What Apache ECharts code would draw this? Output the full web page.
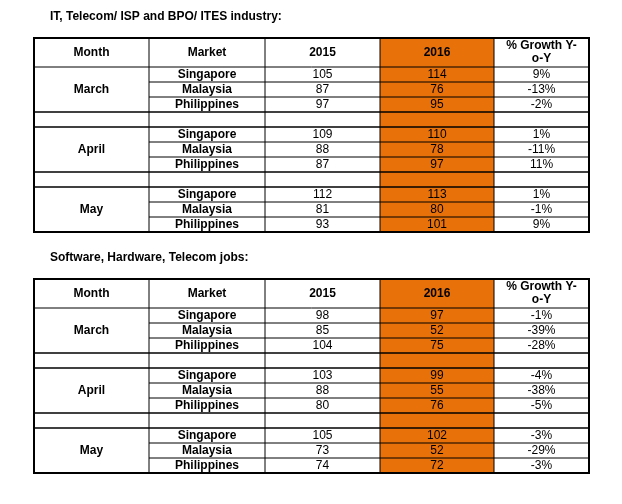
<!DOCTYPE html>
<html lang="en">
<head>
<meta charset="UTF-8">
<title>Jobs table</title>
<script src="https://cdn.jsdelivr.net/npm/echarts@6/dist/echarts.min.js"></script>
<style>html,body{margin:0;height:100%;background:#fff}#main{width:622px;height:504px}</style>
</head>
<body>
<div id="main"></div>
<script>
var months = ['March', 'April', 'May'];
var markets = ['Singapore', 'Malaysia', 'Philippines'];
var headers = ['Month', 'Market', '2015', '2016', ['% Growth Y-', 'o-Y']];
var titles = ['IT, Telecom/ ISP and BPO/ ITES industry:', 'Software, Hardware, Telecom jobs:'];
var it2015 = [105, 87, 97, 109, 88, 87, 112, 81, 93];
var it2016 = [114, 76, 95, 110, 78, 97, 113, 80, 101];
var itGrowth = ['9%', '-13%', '-2%', '1%', '-11%', '11%', '1%', '-1%', '9%'];
var sw2015 = [98, 85, 104, 103, 88, 80, 105, 73, 74];
var sw2016 = [97, 52, 75, 99, 55, 76, 102, 52, 72];
var swGrowth = ['-1%', '-39%', '-28%', '-4%', '-38%', '-5%', '-3%', '-29%', '-3%'];

var colX = [34, 149, 265, 380, 494, 589];
var orange = '#E8710A';
var font = '"Liberation Sans", Arial, sans-serif';
var els = [];

function line(x1, y1, x2, y2, w) {
    els.push({type: 'line', shape: {x1: x1, y1: y1, x2: x2, y2: y2}, style: {stroke: '#000', lineWidth: w || 1}, z: 10});
}
function text(str, x, y, bold) {
    els.push({type: 'text', x: x, y: y, z: 20, style: {text: str, font: (bold ? 'bold ' : '') + '12px ' + font, fill: '#000', align: 'center', verticalAlign: 'middle'}});
}

function table(top, title, v15, v16, gr) {
    var rowH = 15, headH = 29;
    text(title, 0, top - 21, true);
    els[els.length - 1].x = 50; els[els.length - 1].style.align = 'left';
    var left = colX[0], right = colX[5];
    var bottom = top + headH + rowH * 11;
    // orange column
    els.push({type: 'rect', shape: {x: colX[3], y: top, width: colX[4] - colX[3], height: bottom - top}, style: {fill: orange}, z: 1});
    // headers
    for (var c = 0; c < 5; c++) {
        var cx = (colX[c] + colX[c + 1]) / 2;
        if (Array.isArray(headers[c])) {
            text(headers[c][0], cx, top + 8, true);
            text(headers[c][1], cx, top + 21, true);
        } else text(headers[c], cx, top + headH / 2, true);
    }
    line(left, top + headH, right, top + headH);
    for (var g = 0; g < 3; g++) {
        var gy = top + headH + g * 4 * rowH;
        text(months[g], (colX[0] + colX[1]) / 2, gy + rowH * 1.5, true);
        for (var r = 0; r < 3; r++) {
            var i = g * 3 + r, y = gy + r * rowH + rowH / 2;
            text(markets[r], (colX[1] + colX[2]) / 2, y, true);
            text(String(v15[i]), (colX[2] + colX[3]) / 2, y);
            text(String(v16[i]), (colX[3] + colX[4]) / 2, y);
            text(gr[i], (colX[4] + colX[5]) / 2, y);
            if (r < 2) line(colX[1], gy + (r + 1) * rowH, right, gy + (r + 1) * rowH);
        }
        if (g < 2) {
            line(left, gy + 3 * rowH, right, gy + 3 * rowH, 1.5);
            line(left, gy + 4 * rowH, right, gy + 4 * rowH, 1.5);
        }
    }
    for (var k = 1; k < 5; k++) line(colX[k], top, colX[k], bottom);
    els.push({type: 'rect', shape: {x: left, y: top, width: right - left, height: bottom - top}, style: {fill: null, stroke: '#000', lineWidth: 2}, z: 11});
}

table(38, titles[0], it2015, it2016, itGrowth);
table(279, titles[1], sw2015, sw2016, swGrowth);

var myChart = echarts.init(document.getElementById('main'));
myChart.setOption({graphic: {elements: els}});
</script>
</body>
</html>
